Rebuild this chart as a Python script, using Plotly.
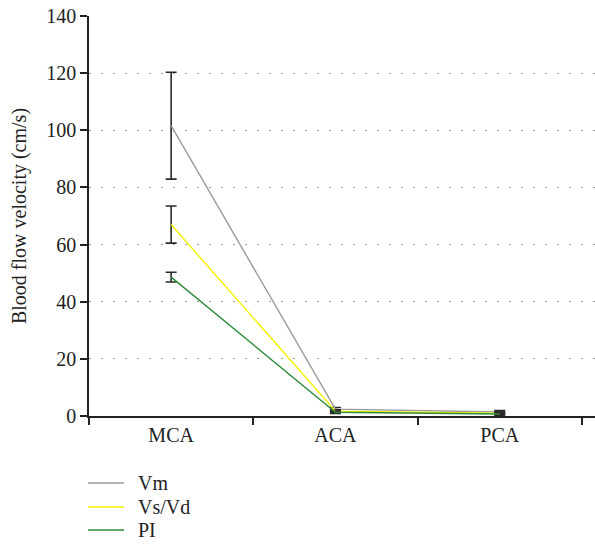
import plotly.graph_objects as go

categories = ["MCA", "ACA", "PCA"]
series_names = ["Vm", "Vs/Vd", "PI"]
vm = [101.6, 2.4, 1.4]
vm_err = [18.7, 0.6, 0.5]
vsvd = [67.0, 1.7, 1.0]
vsvd_err = [6.5, 0.5, 0.5]
pi = [48.6, 1.3, 0.7]
pi_err = [1.7, 0.4, 0.4]
colors = ["#9a9a9a", "#f2f200", "#2e8b3c"]
y_ticks = [0, 20, 40, 60, 80, 100, 120, 140]

font_family = "Liberation Serif, Times New Roman, serif"

W, H = 595, 550
ML, MR, MT, MB = 89, 0, 16, 134
PW, PH = W - ML - MR, H - MT - MB

def px_x(px):
    return (px - ML) / PW

def px_y(py):
    return (H - MB - py) / PH

fig = go.Figure()
for name, vals, errs, col in zip(series_names, [vm, vsvd, pi], [vm_err, vsvd_err, pi_err], colors):
    fig.add_trace(go.Scatter(
        x=categories, y=vals, name=name, mode="lines",
        line=dict(color=col, width=1.4),
        error_y=dict(type="data", array=errs, visible=True, color="#2b2b2b", thickness=1.6, width=5.5),
        showlegend=False,
    ))

# manual legend (line sample + label)
legend_rows = [483, 507, 530]
shapes, annotations = [], []
for name, col, ry in zip(series_names, colors, legend_rows):
    shapes.append(dict(type="line", xref="paper", yref="paper",
                       x0=px_x(88), x1=px_x(124), y0=px_y(ry), y1=px_y(ry),
                       line=dict(color=col, width=1.6)))
    annotations.append(dict(text=name, xref="paper", yref="paper",
                            x=px_x(136), y=px_y(ry), xanchor="left", yanchor="middle",
                            showarrow=False, font=dict(size=20, family=font_family, color="#222")))

fig.update_layout(
    width=W, height=H,
    margin=dict(l=ML, r=MR, t=MT, b=MB, autoexpand=False),
    paper_bgcolor="white", plot_bgcolor="white",
    font=dict(family=font_family, size=20, color="#222"),
    showlegend=False,
    shapes=shapes, annotations=annotations,
)
fig.update_xaxes(
    type="category", range=[-0.5, 2.58], tickson="boundaries",
    showline=True, linecolor="#222", linewidth=1.5,
    ticks="outside", ticklen=7, tickwidth=1.5, tickcolor="#222",
    showgrid=False, zeroline=False,
    tickfont=dict(size=20, family=font_family),
)
fig.update_yaxes(
    range=[0, 140], tickvals=y_ticks,
    showline=True, linecolor="#222", linewidth=1.5,
    ticks="outside", ticklen=7, tickwidth=1.5, tickcolor="#222",
    showgrid=True, gridcolor="#9a9a9a", gridwidth=1, griddash="2px,10px",
    zeroline=False,
    title=dict(text="Blood flow velocity (cm/s)", font=dict(size=20, family=font_family), standoff=14),
    tickfont=dict(size=20, family=font_family),
)

fig.write_html("out.html")
